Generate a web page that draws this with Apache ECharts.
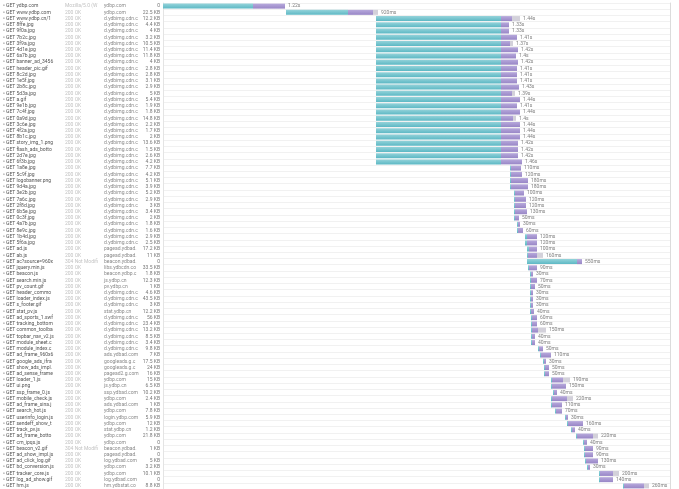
<!DOCTYPE html>
<html>
<head>
<meta charset="utf-8">
<title>waterfall</title>
<script src="https://cdn.jsdelivr.net/npm/echarts@6/dist/echarts.min.js"></script>
<style>
  html, body { margin: 0; padding: 0; background: #fff; }
  #main { width: 679px; height: 489px; }
</style>
</head>
<body>
<div id="main"></div>
<script>
// request rows, top to bottom
const names = [
  'GET ydbp.com', 'GET www.ydbp.com', 'GET www.ydbp.cn/1_2D.css', 'GET 8ffe.jpg', 'GET 9f0a.jpg',
  'GET 7b2c.jpg', 'GET 3f9a.jpg', 'GET 4d1e.jpg', 'GET 6a7b.jpg', 'GET banner_ad_3456.gif',
  'GET header_pic.gif', 'GET 8c2d.jpg', 'GET 1e5f.jpg', 'GET 2b8c.jpg', 'GET 5d3a.jpg',
  'GET a.gif', 'GET 9e1b.jpg', 'GET 7c4f.jpg', 'GET 0a9d.jpg', 'GET 3c6e.jpg',
  'GET 4f2a.jpg', 'GET 8b1c.jpg', 'GET story_img_1.png', 'GET flash_ads_bottom.js', 'GET 2d7e.jpg',
  'GET 6f3b.jpg', 'GET 1a8e.jpg', 'GET 5c9f.jpg', 'GET logobanner.png', 'GET 9d4a.jpg',
  'GET 3e2b.jpg', 'GET 7a6c.jpg', 'GET 2f8d.jpg', 'GET 6b5e.jpg', 'GET 0c3f.jpg',
  'GET 4a7b.jpg', 'GET 8e9c.jpg', 'GET 1b4d.jpg', 'GET 5f6a.jpg', 'GET ad.js',
  'GET ab.js', 'GET ac?source=960x90', 'GET jquery.min.js', 'GET beacon.js', 'GET search.min.js',
  'GET pv_count.gif', 'GET header_common.js', 'GET loader_index.js', 'GET s_footer.gif', 'GET stat_pv.js',
  'GET ad_sports_1.swf', 'GET tracking_bottom.js', 'GET common_toolbar.js', 'GET topbar_nav_v2.js', 'GET module_sheet.css',
  'GET module_index.css', 'GET ad_frame_960x60', 'GET google_ads_iframe', 'GET show_ads_impl.js', 'GET ad_sense_frame',
  'GET loader_1.js', 'GET ui.png', 'GET ssp_frame_0.js', 'GET mobile_check.js', 'GET ad_frame_sina.js',
  'GET search_hot.js', 'GET userinfo_login.js', 'GET sendeff_show_track', 'GET track_pv.js', 'GET ad_frame_bottom',
  'GET cm_ipqs.js', 'GET beacon_v2.gif', 'GET ad_show_impl.js', 'GET ad_click_log.gif', 'GET bd_conversion.js',
  'GET tracker_core.js', 'GET log_ad_show.gif', 'GET hm.js'
]
const statuses = [
  'Mozilla/5.0 (Windows', '200 OK', '200 OK', '200 OK', '200 OK', '200 OK', '200 OK', '200 OK', '200 OK', '200 OK',
  '200 OK', '200 OK', '200 OK', '200 OK', '200 OK', '200 OK', '200 OK', '200 OK', '200 OK', '200 OK',
  '200 OK', '200 OK', '200 OK', '200 OK', '200 OK', '200 OK', '200 OK', '200 OK', '200 OK', '200 OK',
  '200 OK', '200 OK', '200 OK', '200 OK', '200 OK', '200 OK', '200 OK', '200 OK', '200 OK', '200 OK',
  '200 OK', '304 Not Modified', '200 OK', '200 OK', '200 OK', '200 OK', '200 OK', '200 OK', '200 OK', '200 OK',
  '200 OK', '200 OK', '200 OK', '200 OK', '200 OK', '200 OK', '200 OK', '200 OK', '200 OK', '200 OK',
  '200 OK', '200 OK', '200 OK', '200 OK', '200 OK', '200 OK', '200 OK', '200 OK', '200 OK', '200 OK',
  '200 OK', '304 Not Modified', '200 OK', '200 OK', '200 OK', '200 OK', '200 OK', '200 OK'
]
const hosts = [
  'ydbp.com', 'ydbp.com', 'd.ydbimg.cdn.com', 'd.ydbimg.cdn.com', 'd.ydbimg.cdn.com',
  'd.ydbimg.cdn.com', 'd.ydbimg.cdn.com', 'd.ydbimg.cdn.com', 'd.ydbimg.cdn.com', 'd.ydbimg.cdn.com',
  'd.ydbimg.cdn.com', 'd.ydbimg.cdn.com', 'd.ydbimg.cdn.com', 'd.ydbimg.cdn.com', 'd.ydbimg.cdn.com',
  'd.ydbimg.cdn.com', 'd.ydbimg.cdn.com', 'd.ydbimg.cdn.com', 'd.ydbimg.cdn.com', 'd.ydbimg.cdn.com',
  'd.ydbimg.cdn.com', 'd.ydbimg.cdn.com', 'd.ydbimg.cdn.com', 'd.ydbimg.cdn.com', 'd.ydbimg.cdn.com',
  'd.ydbimg.cdn.com', 'd.ydbimg.cdn.com', 'd.ydbimg.cdn.com', 'd.ydbimg.cdn.com', 'd.ydbimg.cdn.com',
  'd.ydbimg.cdn.com', 'd.ydbimg.cdn.com', 'd.ydbimg.cdn.com', 'd.ydbimg.cdn.com', 'd.ydbimg.cdn.com',
  'd.ydbimg.cdn.com', 'd.ydbimg.cdn.com', 'd.ydbimg.cdn.com', 'd.ydbimg.cdn.com', 'pagead.ydbad.com',
  'pagead.ydbad.com', 'beacon.ydbad.com', 'libs.ydbcdn.com', 'beacon.ydbp.cn', 'js.ydbp.cn',
  'pv.ydbp.cn', 'd.ydbimg.cdn.com', 'd.ydbimg.cdn.com', 'd.ydbimg.cdn.com', 'stat.ydbp.cn',
  'd.ydbimg.cdn.com', 'd.ydbimg.cdn.com', 'd.ydbimg.cdn.com', 'd.ydbimg.cdn.com', 'd.ydbimg.cdn.com',
  'd.ydbimg.cdn.com', 'ads.ydbad.com', 'googleads.g.com', 'googleads.g.com', 'pagead2.g.com',
  'ydbp.com', 'js.ydbp.cn', 'ssp.ydbad.com', 'ydbp.com', 'ads.ydbad.com',
  'ydbp.com', 'login.ydbp.com', 'ydbp.com', 'stat.ydbp.cn', 'ydbp.com',
  'ydbp.com', 'beacon.ydbad.com', 'pagead.ydbad.com', 'log.ydbad.com', 'ydbp.com',
  'ydbp.com', 'log.ydbad.com', 'hm.ydbstat.com'
]
const sizes = [
  '0', '22.5 KB', '12.2 KB', '4.4 KB', '4 KB', '3.2 KB', '10.5 KB', '11.4 KB', '11.8 KB', '4 KB',
  '2.8 KB', '2.8 KB', '3.1 KB', '2.9 KB', '5 KB', '5.4 KB', '1.9 KB', '1.8 KB', '14.8 KB', '2.2 KB',
  '1.7 KB', '2 KB', '13.6 KB', '1.5 KB', '2.6 KB', '4.2 KB', '7.7 KB', '4.2 KB', '5.1 KB', '3.9 KB',
  '5.2 KB', '2.9 KB', '3 KB', '3.4 KB', '2 KB', '1.8 KB', '1.6 KB', '2.9 KB', '2.5 KB', '17.2 KB',
  '11 KB', '0', '33.5 KB', '1.8 KB', '12.3 KB', '1 KB', '4.6 KB', '43.5 KB', '3 KB', '12.2 KB',
  '56 KB', '23.4 KB', '13.2 KB', '8.5 KB', '3.4 KB', '9.8 KB', '7 KB', '17.5 KB', '24 KB', '16 KB',
  '15 KB', '6.5 KB', '10.2 KB', '2.4 KB', '1 KB', '7.8 KB', '5.9 KB', '12 KB', '1.2 KB', '21.8 KB',
  '0', '1 KB', '0', '5 KB', '3.2 KB', '10.1 KB', '0', '8.8 KB'
]
// timings in ms: blocked offset, waiting (teal), receiving (purple), tail (gray)
const startMs = [
  0, 1230, 2130, 2130, 2130, 2130, 2130, 2130, 2130, 2130,
  2130, 2130, 2130, 2130, 2130, 2130, 2130, 2130, 2130, 2130,
  2130, 2130, 2130, 2130, 2130, 2130, 3470, 3470, 3470, 3470,
  3510, 3510, 3510, 3510, 3510, 3540, 3540, 3620, 3620, 3640,
  3640, 3640, 3650, 3670, 3670, 3670, 3670, 3670, 3670, 3670,
  3680, 3680, 3680, 3680, 3680, 3750, 3770, 3800, 3810, 3810,
  3880, 3880, 3900, 3880, 3880, 3920, 4020, 4040, 4080, 4130,
  4200, 4210, 4210, 4220, 4240, 4360, 4360, 4600
]
const waitMs = [
  900, 620, 1250, 1250, 1250, 1250, 1250, 1250, 1250, 1250,
  1250, 1250, 1250, 1250, 1250, 1250, 1250, 1250, 1250, 1250,
  1250, 1250, 1250, 1250, 1250, 1250, 10, 10, 10, 10,
  10, 10, 10, 10, 10, 10, 10, 20, 20, 20,
  10, 500, 10, 10, 10, 10, 10, 10, 10, 10,
  10, 10, 10, 10, 10, 10, 10, 10, 10, 10,
  10, 10, 10, 10, 10, 10, 10, 10, 10, 10,
  10, 10, 10, 10, 10, 10, 10, 10
]
const recvMs = [
  320, 250, 110, 80, 80, 160, 90, 170, 150, 170,
  160, 160, 160, 180, 110, 190, 160, 190, 120, 190,
  190, 190, 170, 170, 170, 210, 100, 110, 170, 170,
  90, 110, 110, 120, 40, 20, 50, 100, 100, 80,
  90, 50, 80, 20, 60, 40, 20, 20, 20, 30,
  50, 50, 60, 30, 30, 40, 100, 20, 40, 40,
  110, 140, 30, 150, 100, 60, 20, 150, 30, 160,
  30, 80, 80, 120, 20, 130, 130, 200
]
const tailMs = [
  0, 50, 80, 0, 0, 0, 30, 0, 0, 0,
  0, 0, 0, 0, 30, 0, 0, 0, 30, 0,
  0, 0, 0, 0, 0, 0, 0, 0, 0, 0,
  0, 0, 0, 0, 0, 0, 0, 0, 0, 0,
  60, 0, 0, 0, 0, 0, 0, 0, 0, 0,
  0, 0, 80, 0, 0, 0, 0, 0, 0, 0,
  70, 0, 0, 60, 0, 0, 0, 0, 0, 50,
  0, 0, 0, 0, 0, 60, 0, 50
]

function fmtTime (ms) {
  if (ms >= 1000) return (ms / 1000).toFixed(2).replace(/0$/, '') + 's'
  return ms + 'ms'
}

const chart = echarts.init(document.getElementById('main'))
const txtFont = 'Roboto, "Noto Sans", sans-serif'
function grad (top, bottom) {
  return new echarts.graphic.LinearGradient(0, 0, 0, 1, [
    { offset: 0, color: top },
    { offset: 1, color: bottom },
  ])
}
// one left-hand text column = one extra category axis
function textAxis (data, offset, color, width) {
  return {
    type: 'category',
    inverse: true,
    position: 'left',
    offset: offset,
    data: data,
    axisLine: { show: false },
    axisTick: { show: false },
    splitLine: { show: false },
    axisLabel: {
      interval: 0,
      align: 'left',
      margin: 0,
      width: width,
      overflow: 'truncate',
      ellipsis: '',
      fontSize: 5,
      fontFamily: txtFont,
      color: color,
    },
  }
}

const nameAxis = textAxis(names, 153, '#555', 46)
nameAxis.offset = 160
nameAxis.axisLabel.width = 52
nameAxis.axisLabel.formatter = (v) => '\u25AB ' + v

const option = {
  animation: false,
  backgroundColor: '#fff',
  grid: { left: 163, right: 9, top: 3, bottom: 0, containLabel: false },
  xAxis: { type: 'value', min: 0, max: 5070, show: false },
  yAxis: [
    {
      type: 'category',
      inverse: true,
      position: 'left',
      data: sizes,
      axisLine: { show: true, lineStyle: { color: '#e4e4e4' } },
      axisTick: { show: false },
      splitLine: { show: true, lineStyle: { color: '#f1f1f1', width: 1 } },
      axisLabel: { interval: 0, margin: 3, fontSize: 5, fontFamily: txtFont, color: '#777' },
    },
    textAxis(hosts, 59, '#8a8a8a', 36),
    textAxis(statuses, 98, '#c2c2c2', 34),
    nameAxis,
    {
      type: 'category',
      inverse: true,
      position: 'right',
      data: sizes,
      axisLine: { show: true, lineStyle: { color: '#dcdcdc' } },
      axisTick: { show: false },
      axisLabel: { show: false },
    },
  ],
  series: [
    {
      name: 'offset', type: 'bar', stack: 'req', barWidth: 5,
      itemStyle: { color: 'transparent' },
      data: startMs,
    },
    {
      name: 'waiting', type: 'bar', stack: 'req', barWidth: 5,
      itemStyle: { color: grad('#94d3da', '#5cb8c4') },
      data: waitMs,
    },
    {
      name: 'receiving', type: 'bar', stack: 'req', barWidth: 5,
      itemStyle: { color: grad('#b7a9dc', '#9886c6') },
      data: recvMs,
    },
    {
      name: 'tail', type: 'bar', stack: 'req', barWidth: 5,
      itemStyle: { color: '#d3d1da' },
      label: {
        show: true,
        position: 'right',
        distance: 3,
        fontSize: 5,
        fontFamily: txtFont,
        color: '#808080',
        formatter: (p) => fmtTime(waitMs[p.dataIndex] + recvMs[p.dataIndex] + tailMs[p.dataIndex]),
      },
      data: tailMs,
    },
  ],
}
option && chart.setOption(option)
window.addEventListener('resize', () => {
  chart.resize()
})
</script>
</body>
</html>
